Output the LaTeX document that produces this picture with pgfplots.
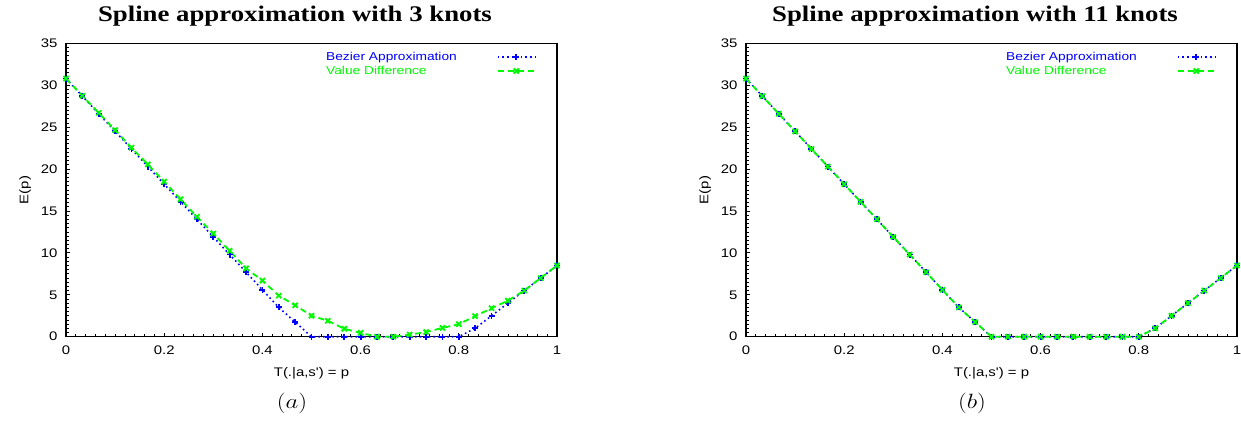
\documentclass[border=0pt]{standalone}
\usepackage{pgfplots}
\pgfplotsset{compat=1.18}
\usepackage{pgfplotstable}
\usepackage{graphicx}
\usepackage{fontspec}
\setmainfont{Liberation Sans}[FakeStretch=1.2, Ligatures=TeXOff]
\newfontfamily\titlefont{Liberation Serif}[FakeStretch=1.2]

\definecolor{gpblue}{RGB}{0,0,255}
\definecolor{gpgreen}{RGB}{0,250,0}

% x = k/30, bez = Bezier approximation, val = value difference
\pgfplotstableread{
x      bez   val
0      30.8  30.8
0.0333 28.7  28.75
0.0667 26.6  26.7
0.1    24.5  24.65
0.1333 22.4  22.55
0.1667 20.3  20.55
0.2    18.2  18.5
0.2333 16.1  16.4
0.2667 14.0  14.3
0.3    11.9  12.3
0.3333 9.8   10.25
0.3667 7.7   8.15
0.4    5.6   6.7
0.4333 3.5   4.9
0.4667 1.75  3.75
0.5    0     2.5
0.5333 0     1.9
0.5667 0     0.95
0.6    0     0.45
0.6333 0     0
0.6667 0     0
0.7    0     0.25
0.7333 0     0.55
0.7667 0     1.05
0.8    0     1.5
0.8333 1.0   2.45
0.8667 2.5   3.4
0.9    4.0   4.3
0.9333 5.5   5.5
0.9667 7.0   7.0
1      8.5   8.5
}\knotsthree

\pgfplotstableread{
x      bez   val
0      30.8  30.8
0.0333 28.7  28.7
0.0667 26.6  26.6
0.1    24.5  24.5
0.1333 22.4  22.4
0.1667 20.3  20.3
0.2    18.2  18.2
0.2333 16.1  16.1
0.2667 14.0  14.0
0.3    11.9  11.9
0.3333 9.8   9.8
0.3667 7.7   7.7
0.4    5.6   5.6
0.4333 3.5   3.5
0.4667 1.75  1.75
0.5    0     0
0.5333 0     0
0.5667 0     0
0.6    0     0
0.6333 0     0
0.6667 0     0
0.7    0     0
0.7333 0     0
0.7667 0     0
0.8    0     0
0.8333 1.0   1.0
0.8667 2.5   2.5
0.9    4.0   4.0
0.9333 5.5   5.5
0.9667 7.0   7.0
1      8.5   8.5
}\knotseleven

\pgfplotsset{
  gpaxis/.style={
    scale only axis, width=491bp, height=293.4bp, anchor=south west,
    xmin=0, xmax=1, ymin=0, ymax=35,
    xtick={0,0.2,0.4,0.6,0.8,1}, ytick={0,5,...,35},
    minor x tick num=9, minor y tick num=9,
    tick align=inside, xtick pos=bottom, ytick pos=left,
    major tick length=4bp, minor tick length=2.5bp,
    axis line style={line width=1.2bp},
    every tick/.style={black, line width=0.8bp},
    /pgf/number format/assume math mode=true,
    /pgf/number format/fixed,
    ticklabel style={font=\fontsize{12.5}{15}\selectfont},
    xticklabel style={yshift=-6bp},
    yticklabel style={xshift=-5bp},
    label style={font=\fontsize{12.5}{15}\selectfont},
    xlabel={T(.|a,s\char39) = p},
    ylabel={E(p)},
    xlabel style={at={(axis description cs:0.5,-0.124)}, anchor=center},
    ylabel style={at={(axis description cs:-0.083,0.5)}, anchor=center},
    clip=false,
    legend cell align=left,
    legend plot pos=right,
    legend style={draw=none, fill=none, inner sep=0pt, row sep=4bp,
      column sep=40bp, at={(0.5295,0.97)}, anchor=north west,
      font=\fontsize{11.5}{14}\selectfont, nodes={inner sep=0pt}},
    legend image code/.code={
      \draw[mark repeat=2, mark phase=2, ##1]
        plot coordinates {(0bp,0bp) (18.5bp,0bp) (37bp,0bp)};
    },
  },
  bezstyle/.style={color=gpblue, line width=1.6bp, dash pattern=on 1.6bp off 3bp,
    mark=+, mark size=3bp, mark options={solid, line width=1.8bp}},
  valstyle/.style={color=gpgreen, line width=1.8bp, dash pattern=on 6bp off 4bp,
    mark=x, mark size=3.6bp, mark options={solid, line width=1.9bp}},
}

\begin{document}
\begin{tikzpicture}
\useasboundingbox (0,0) rectangle (1241bp,-424bp);

\begin{axis}[gpaxis, at={(66bp,-336.7bp)}]
\addplot[bezstyle] table[x=x, y=bez] {\knotsthree};
\addlegendentry{\textcolor{gpblue}{Bezier Approximation}}
\addplot[valstyle] table[x=x, y=val] {\knotsthree};
\addlegendentry{\textcolor{gpgreen}{Value Difference}}
\end{axis}

\begin{axis}[gpaxis, at={(746bp,-336.7bp)}]
\addplot[bezstyle] table[x=x, y=bez] {\knotseleven};
\addlegendentry{\textcolor{gpblue}{Bezier Approximation}}
\addplot[valstyle] table[x=x, y=val] {\knotseleven};
\addlegendentry{\textcolor{gpgreen}{Value Difference}}
\end{axis}

\node[anchor=base, font=\titlefont\bfseries\fontsize{22.4}{26}\selectfont]
  at (295bp,-21bp) {Spline approximation with 3 knots};
\node[anchor=base, font=\titlefont\bfseries\fontsize{22.4}{26}\selectfont]
  at (975bp,-21bp) {Spline approximation with 11 knots};
\node at (292bp,-403bp) {\scalebox{1.2}[1]{\fontsize{20}{24}\selectfont$(a)$}};
\node at (972bp,-403bp) {\scalebox{1.2}[1]{\fontsize{20}{24}\selectfont$(b)$}};
\end{tikzpicture}
\end{document}
